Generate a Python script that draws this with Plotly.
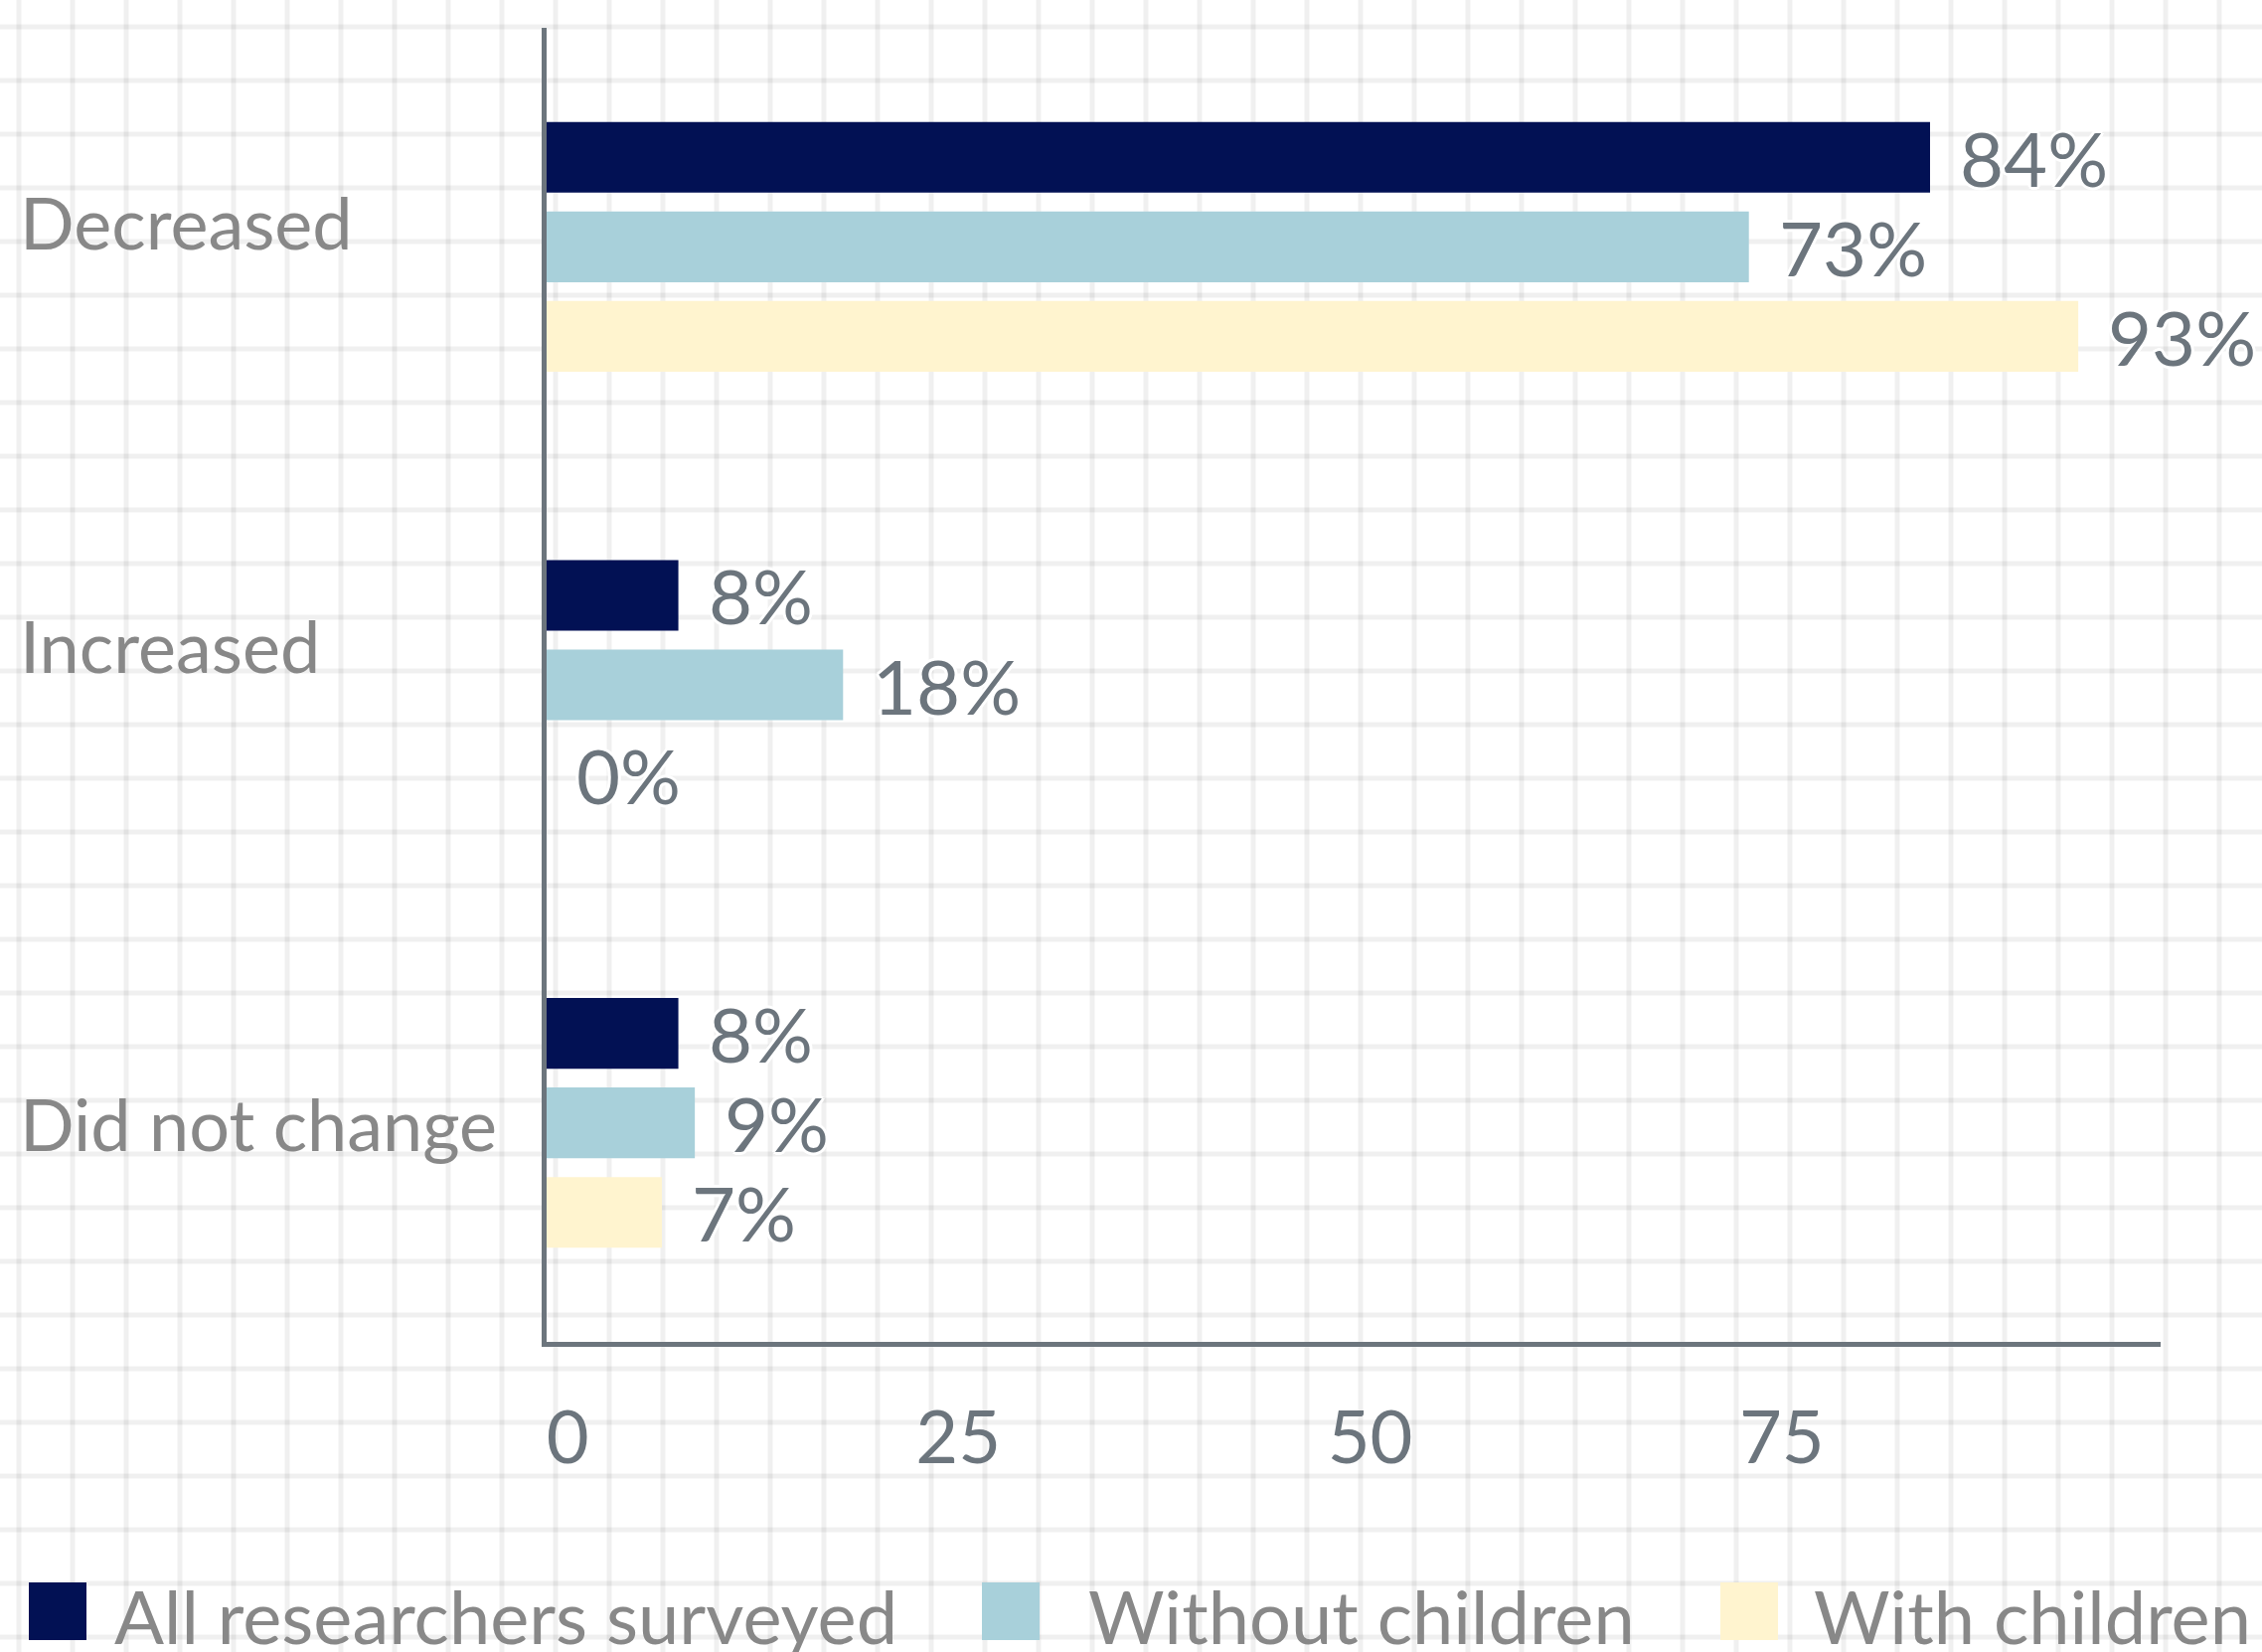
import plotly.graph_objects as go

# ---- data ----
categories = ["Decreased", "Increased", "Did not change"]
series_names = ["All researchers surveyed", "Without children", "With children"]
all_researchers = [84, 8, 8]
without_children = [73, 18, 9]
with_children = [93, 0, 7]
x_tick_vals = [0, 25, 50, 75]
x_tick_text = ["\u00a0\u00a0\u200a0", "25", "50", "75"]

series_values = [all_researchers, without_children, with_children]
colors = ["#021154", "#a8d0da", "#fff4cf"]

W, H = 2276, 1662
L, R, T, B = 550, 102, 28, 312
PW, PH = W - L - R, H - T - B
BARGAP, GROUPGAP = 0.387, 0.21

def px_x(p):
    return (p - L) / PW

def px_y(p):
    return (H - B - p) / PH

FONT = "Lato, 'Noto Sans', sans-serif"
halo = ("3px 0 0 #fff, -3px 0 0 #fff, 0 3px 0 #fff, 0 -3px 0 #fff, "
        "2px 2px 0 #fff, -2px -2px 0 #fff, 2px -2px 0 #fff, -2px 2px 0 #fff")

fig = go.Figure()
for name, vals, col in zip(series_names, series_values, colors):
    fig.add_trace(go.Bar(
        y=categories, x=vals, name=name, orientation="h",
        marker=dict(color=col, line=dict(width=0)),
        hoverinfo="skip", showlegend=False,
    ))

shapes = []
# graph-paper background
grid_col = "rgba(0,0,0,0.06)"
x = 19
while x < W:
    shapes.append(dict(type="line", xref="paper", yref="paper",
                       x0=px_x(x), x1=px_x(x), y0=px_y(0), y1=px_y(H),
                       line=dict(color=grid_col, width=5), layer="below"))
    x += 54
y = 27
while y < H:
    shapes.append(dict(type="line", xref="paper", yref="paper",
                       x0=px_x(0), x1=px_x(W), y0=px_y(y), y1=px_y(y),
                       line=dict(color=grid_col, width=5), layer="below"))
    y += 54

annotations = []

# value labels at the end of each bar (positioned on the data axes)
n_series = len(series_values)
slot = (1 - BARGAP) / n_series
for i, vals in enumerate(series_values):
    off = (i - (n_series - 1) / 2) * slot
    for ci, v in enumerate(vals):
        annotations.append(dict(xref="x", yref="y", x=v, y=ci + off,
                                xanchor="left", yanchor="middle", xshift=28,
                                text=f"{v}%", showarrow=False,
                                font=dict(family=FONT, size=76, color="#6c757d",
                                          shadow=halo)))

# category labels, left aligned
label_nudge = [25, 40, 0]
for cat, nud in zip(categories, label_nudge):
    annotations.append(dict(xref="paper", yref="y", x=px_x(18), y=cat,
                            xanchor="left", yanchor="middle", yshift=nud,
                            text=cat, showarrow=False,
                            font=dict(family=FONT, size=72, color="#888888")))

# manual legend with large swatches
legend_swatch_x = [29, 988, 1731]
legend_text_x = [113, 1093, 1823]
for name, col, sx, tx in zip(series_names, colors, legend_swatch_x, legend_text_x):
    shapes.append(dict(type="rect", xref="paper", yref="paper",
                       x0=px_x(sx), x1=px_x(sx + 58), y0=px_y(1592), y1=px_y(1650),
                       fillcolor=col, line=dict(width=0), layer="above"))
    annotations.append(dict(xref="paper", yref="paper", x=px_x(tx), y=px_y(1625),
                            xanchor="left", yanchor="middle", text=name,
                            showarrow=False,
                            font=dict(family=FONT, size=74, color="#888888")))

fig.update_layout(
    width=W, height=H,
    margin=dict(l=L, r=R, t=T, b=B, autoexpand=False),
    paper_bgcolor="white", plot_bgcolor="rgba(0,0,0,0)",
    barmode="group", bargap=BARGAP, bargroupgap=GROUPGAP,
    showlegend=False,
    shapes=shapes, annotations=annotations,
    xaxis=dict(range=[0, 98], tickvals=x_tick_vals, ticktext=x_tick_text,
               showgrid=False, zeroline=False, showline=True,
               linecolor="#6c757d", linewidth=5, ticks="",
               ticklabelstandoff=28,
               tickfont=dict(family=FONT, size=74, color="#6c757d"),
               fixedrange=True),
    yaxis=dict(type="category", autorange="reversed", showticklabels=False,
               showgrid=False, zeroline=False, showline=True,
               linecolor="#6c757d", linewidth=5, ticks="", fixedrange=True),
)

fig.write_html("out.html", config={"displayModeBar": False},
               post_script="document.body.style.margin='0';document.body.style.overflow='hidden';")
